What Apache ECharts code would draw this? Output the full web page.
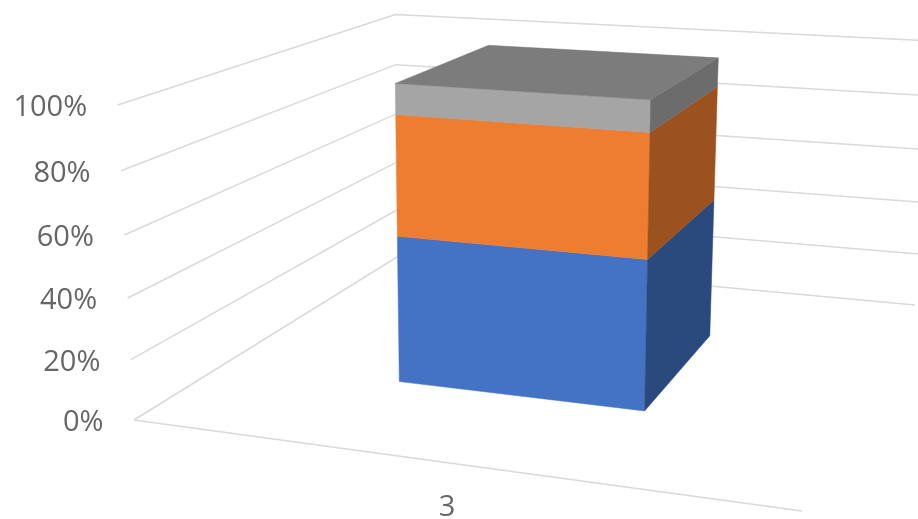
<!DOCTYPE html>
<html>
<head>
<meta charset="utf-8">
<style>
  html, body { margin: 0; padding: 0; background: #fff; }
  #main { width: 918px; height: 519px; }
</style>
<script src="https://cdn.jsdelivr.net/npm/echarts@6/dist/echarts.min.js"></script>
</head>
<body>
<div id="main"></div>
<script>
var categories = ['3'];
var blueValues = [50];
var orangeValues = [40];
var grayValues = [10];
var tickValues = [0, 20, 40, 60, 80, 100];

// face colours of each stacked block: front, side, top
var blueFaces = ['#4472C4', '#2A4A7E', '#2A4A7E'];
var orangeFaces = ['#ED7D31', '#9B521E', '#9B521E'];
var grayFaces = ['#A5A5A5', '#6C6C6C', '#7C7C7C'];

var depthFront = 0.3, depthBack = 0.7;
var barWidthRatio = 0.4;
var barShift = 0.004;
var labelColor = '#666';
var labelFont = '"Open Sans", sans-serif';

// camera of the 3d plot: unit box (x, y, z) -> screen
function project(x, y, z) {
  var w = 1 - 0.1344 * x - 0.052 * y + 0.3189 * z;
  return [
    (134 + 560.2 * x - 22.5 * y + 389.6 * z - 7.5 * x * y) / w,
    (420 + 22.3 * x - 320.5 * y - 81 * z + 5.4 * x * y) / w
  ];
}

function unitY(params, api, v) {
  var cs = params.coordSys;
  return (cs.y + cs.height - api.coord([0, v])[1]) / cs.height;
}

function renderWalls(params, api) {
  var y = unitY(params, api, api.value(1));
  var lineStyle = { stroke: '#D9D9D9', lineWidth: 1.5, fill: null };
  var children = [
    {
      type: 'polyline',
      shape: { points: [project(0, y, 0), project(0, y, 1), project(1, y, 1)] },
      style: lineStyle
    }
  ];
  var end = project(0, y, 0);
  children.push({
    type: 'text',
    style: {
      text: api.value(1) + '%',
      x: end[0] - 30.5,
      y: end[1] + 3,
      textAlign: 'right',
      textVerticalAlign: 'middle',
      fontSize: 29,
      fontFamily: labelFont,
      fill: labelColor
    }
  });
  if (api.value(1) === 0) {
    children.push({
      type: 'line',
      shape: {
        x1: project(0, 0, 0)[0], y1: project(0, 0, 0)[1],
        x2: project(1, 0, 0)[0], y2: project(1, 0, 0)[1]
      },
      style: lineStyle
    });
    var mid = project(0.5, 0, 0);
    children.push({
      type: 'text',
      style: {
        text: categories[0],
        x: mid[0] + 3,
        y: mid[1] + 46,
        textAlign: 'center',
        textVerticalAlign: 'middle',
        fontSize: 29,
        fontFamily: labelFont,
        fill: labelColor
      }
    });
  }
  return { type: 'group', children: children };
}

function stackRender(faces, isTop) {
  return function (params, api) {
    var cs = params.coordSys;
    var center = (api.coord([api.value(0), 0])[0] - cs.x) / cs.width + barShift;
    var half = api.size([1, 0])[0] / cs.width * barWidthRatio / 2;
    var x0 = center - half, x1 = center + half;
    var y0 = unitY(params, api, api.value(1));
    var y1 = unitY(params, api, api.value(2));
    var face = function (points, color) {
      return {
        type: 'polygon',
        shape: { points: points },
        style: { fill: color, stroke: color, lineWidth: 0.5 }
      };
    };
    var children = [
      face([project(x0, y0, depthFront), project(x1, y0, depthFront),
            project(x1, y1, depthFront), project(x0, y1, depthFront)], faces[0]),
      face([project(x1, y0, depthFront), project(x1, y0, depthBack),
            project(x1, y1, depthBack), project(x1, y1, depthFront)], faces[1])
    ];
    if (isTop) {
      children.push(face([project(x0, y1, depthFront), project(x1, y1, depthFront),
                          project(x1, y1, depthBack), project(x0, y1, depthBack)], faces[2]));
    }
    return { type: 'group', children: children };
  };
}

function stackData(values, below) {
  return values.map(function (v, i) {
    var base = below.reduce(function (sum, arr) { return sum + arr[i]; }, 0);
    return [i, base, base + v];
  });
}

var chart = echarts.init(document.getElementById('main'));
chart.setOption({
  animation: false,
  backgroundColor: '#fff',
  grid: { left: 0, right: 0, top: 0, bottom: 0 },
  xAxis: { type: 'category', data: categories, show: false },
  yAxis: { type: 'value', min: 0, max: 100, interval: 20, show: false },
  series: [
    {
      type: 'custom', name: 'walls', renderItem: renderWalls, clip: false, silent: true,
      encode: { x: 0, y: 1 },
      data: tickValues.map(function (t) { return [0, t]; })
    },
    {
      type: 'custom', name: 'Series1', renderItem: stackRender(blueFaces, false), clip: false,
      encode: { x: 0, y: [1, 2] },
      data: stackData(blueValues, [])
    },
    {
      type: 'custom', name: 'Series2', renderItem: stackRender(orangeFaces, false), clip: false,
      encode: { x: 0, y: [1, 2] },
      data: stackData(orangeValues, [blueValues])
    },
    {
      type: 'custom', name: 'Series3', renderItem: stackRender(grayFaces, true), clip: false,
      encode: { x: 0, y: [1, 2] },
      data: stackData(grayValues, [blueValues, orangeValues])
    }
  ]
});
</script>
</body>
</html>
